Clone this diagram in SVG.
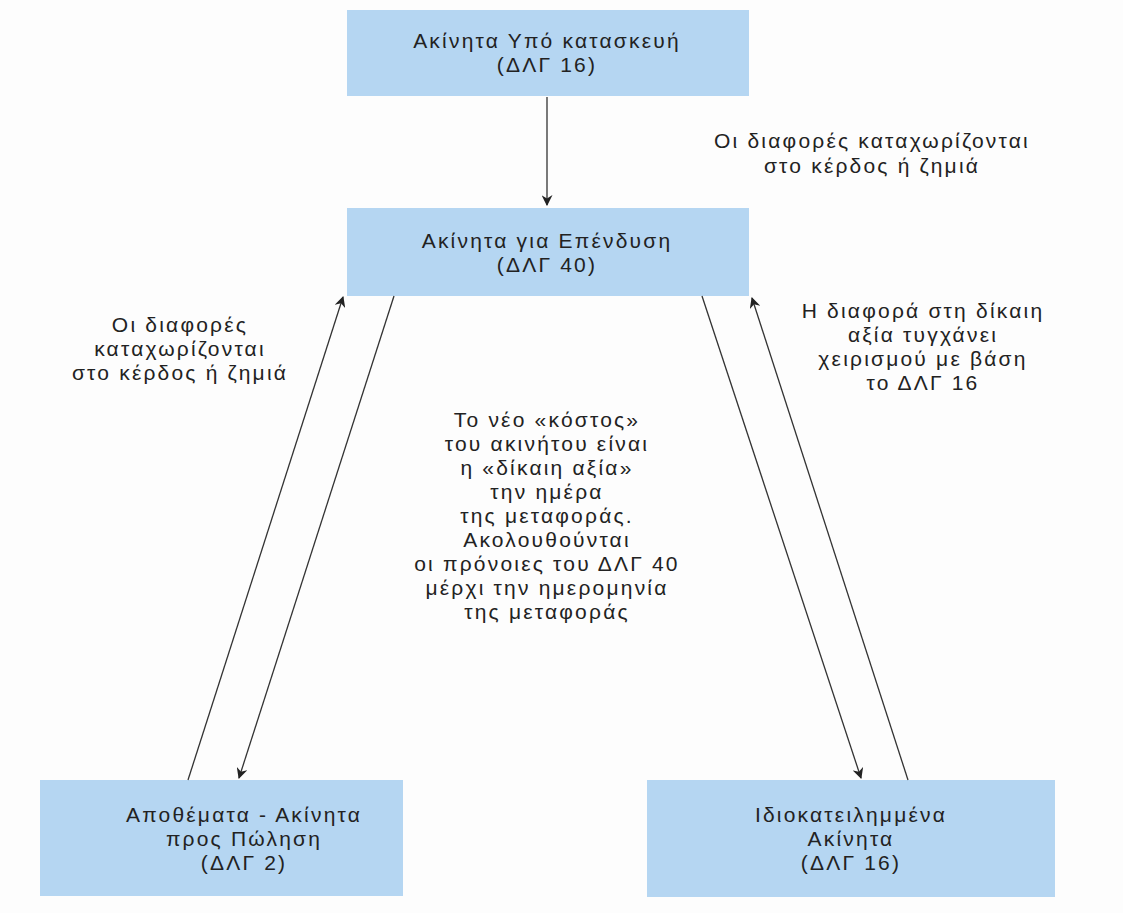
<svg xmlns="http://www.w3.org/2000/svg" width="1123" height="913" viewBox="0 0 1123 913">
<defs>
<style>
.box{fill:#b5d6f2;}
text{font-family:"Liberation Sans",Arial,sans-serif;font-size:21px;letter-spacing:2.2px;fill:#222;text-anchor:middle;}
.c{stroke:#333;stroke-width:1.3;fill:none;}
</style>
<marker id="ah" viewBox="0 0 10 10" refX="9" refY="5" markerWidth="11" markerHeight="11" markerUnits="userSpaceOnUse" orient="auto">
<path d="M0,0 L10,5 L0,10 L3,5 Z" fill="#222"/>
</marker>
</defs>
<rect width="1123" height="913" fill="#fdfdfd"/>
<g id="n1"><rect class="box" x="347" y="10" width="402" height="86"/>
<text x="547" y="48">Ακίνητα Υπό κατασκευή</text><text x="547" y="72">(ΔΛΓ 16)</text></g>
<g id="n2"><rect class="box" x="347" y="208" width="402" height="88"/>
<text x="547" y="248">Ακίνητα για Επένδυση</text><text x="547" y="272">(ΔΛΓ 40)</text></g>
<g id="n3"><rect class="box" x="40" y="780" width="363" height="116"/>
<text x="244" y="822">Αποθέματα - Ακίνητα</text><text x="244" y="846">προς Πώληση</text><text x="244" y="870">(ΔΛΓ 2)</text></g>
<g id="n4"><rect class="box" x="647" y="780" width="408" height="117"/>
<text x="851" y="822">Ιδιοκατειλημμένα</text><text x="851" y="846">Ακίνητα</text><text x="851" y="870">(ΔΛΓ 16)</text></g>
<g id="connectors">
<line class="c" x1="547" y1="97" x2="547" y2="205" marker-end="url(#ah)"/>
<line class="c" x1="188" y1="780" x2="343" y2="297" marker-end="url(#ah)"/>
<line class="c" x1="394" y1="296" x2="239" y2="778" marker-end="url(#ah)"/>
<line class="c" x1="702" y1="296" x2="861" y2="778" marker-end="url(#ah)"/>
<line class="c" x1="908" y1="780" x2="752" y2="298" marker-end="url(#ah)"/>
</g>
<g id="labels">
<text x="872" y="148">Οι διαφορές καταχωρίζονται</text>
<text x="872" y="173">στο κέρδος ή ζημιά</text>
<text x="180" y="332">Οι διαφορές</text>
<text x="180" y="356">καταχωρίζονται</text>
<text x="180" y="380">στο κέρδος ή ζημιά</text>
<text x="923" y="318">Η διαφορά στη δίκαιη</text>
<text x="923" y="342">αξία τυγχάνει</text>
<text x="923" y="366">χειρισμού με βάση</text>
<text x="923" y="390">το ΔΛΓ 16</text>
<text x="547" y="427">Το νέο «κόστος»</text>
<text x="547" y="451">του ακινήτου είναι</text>
<text x="547" y="475">η «δίκαιη αξία»</text>
<text x="547" y="499">την ημέρα</text>
<text x="547" y="523">της μεταφοράς.</text>
<text x="547" y="547">Ακολουθούνται</text>
<text x="547" y="571">οι πρόνοιες του ΔΛΓ 40</text>
<text x="547" y="595">μέρχι την ημερομηνία</text>
<text x="547" y="619">της μεταφοράς</text>
</g>
</svg>
